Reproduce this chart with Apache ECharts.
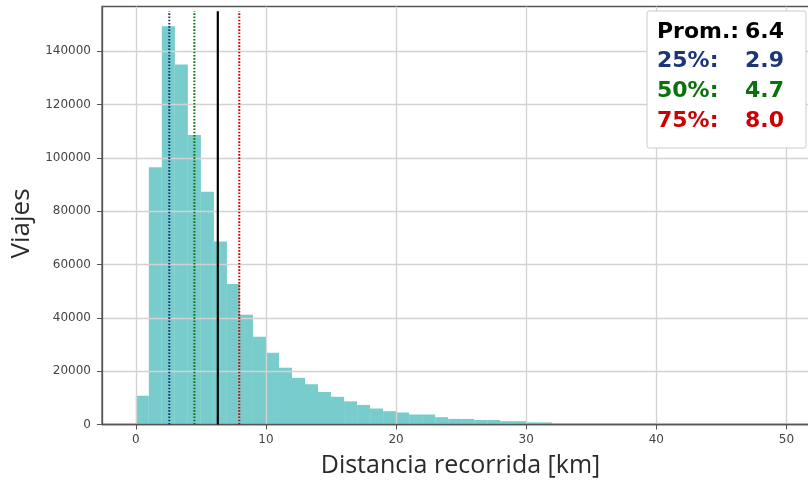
<!DOCTYPE html>
<html>
<head>
<meta charset="utf-8">
<script src="https://cdn.jsdelivr.net/npm/echarts@6/dist/echarts.min.js"></script>
<style>html,body{margin:0;padding:0;background:#fff;}#c{width:808px;height:491px;}</style>
</head>
<body>
<div id="c"></div>
<script>
// Histogram bins (start of bin, width 1 km)
const binStarts = [0,1,2,3,4,5,6,7,8,9,10,11,12,13,14,15,16,17,18,19,20,21,22,23,24,25,26,27,28,29,30,31,32,33,34,35,36,37,38,39];
const binCounts = [10800,96500,149300,135000,108600,87300,68600,52700,41200,32900,26900,21300,17500,15100,12200,10400,8700,7350,6000,5000,4500,3750,3750,2750,2100,2100,1700,1700,1250,1250,800,800,350,350,300,300,300,300,300,300];
const binWidth = 1;
// Vertical reference lines (drawn positions) and their legend values
const refNames = ['Prom.:', '25%:', '50%:', '75%:'];
const refValues = ['6.4', '2.9', '4.7', '8.0'];
const refLineX = [6.3, 2.57, 4.5, 7.95];
const refLineTop = 155000;
const refColors = ['#000000', '#1b3577', '#0a720a', '#cc0000'];
const xTicks = [0,10,20,30,40,50];
const yTicks = [0,20000,40000,60000,80000,100000,120000,140000];

const chart = echarts.init(document.getElementById('c'), null, {renderer:'canvas'});

const lineSeries = refLineX.map((x, i) => ({
  type: 'line',
  data: [[x, 0], [x, refLineTop]],
  symbol: 'none',
  z: 6,
  silent: true,
  lineStyle: i === 0
    ? {color: refColors[i], width: 2.2, type: 'solid'}
    : {color: refColors[i], width: 2, type: [1.6, 1.6]}
}));

const option = {
  animation: false,
  grid: {left: 102, top: 6.5, width: 717, bottom: 66.5, outerBoundsMode: 'none', containLabel: false,
         show: true, borderColor: '#555', borderWidth: 1.3, backgroundColor: 'transparent'},
  xAxis: {
    type: 'value', min: -2.6, max: 52.5, z: 3,
    name: 'Distancia recorrida [km]', nameLocation: 'middle', nameGap: 29,
    nameTextStyle: {fontFamily: 'Open Sans', fontSize: 25, color: '#2a2a2a'},
    axisLine: {show: true, onZero: false, lineStyle: {color: '#555', width: 1.3}},
    axisTick: {show: true, length: 5, lineStyle: {color: '#555'}, customValues: xTicks},
    axisLabel: {customValues: xTicks, fontFamily: 'DejaVu Sans', fontSize: 12, color: '#444', margin: 9},
    splitLine: {show: true, lineStyle: {color: '#d2d2d2', width: 1.3}}
  },
  yAxis: {
    type: 'value', min: 0, max: 156750, z: 3,
    name: 'Viajes', nameLocation: 'middle', nameGap: 65,
    nameTextStyle: {fontFamily: 'Open Sans', fontSize: 26, color: '#2a2a2a', padding: [0,16,0,0]},
    axisLine: {show: true, onZero: false, lineStyle: {color: '#555', width: 1.3}},
    axisTick: {show: true, length: 5, lineStyle: {color: '#555'}, customValues: yTicks},
    axisLabel: {customValues: yTicks, formatter: v => String(v), fontFamily: 'DejaVu Sans', fontSize: 12, color: '#444', margin: 11},
    splitLine: {show: true, lineStyle: {color: '#d2d2d2', width: 1.3}}
  },
  series: [{
    type: 'custom',
    z: 2,
    silent: true,
    data: binStarts.map((s, i) => [s, binCounts[i]]),
    renderItem: function (params, api) {
      const s = api.value(0), v = api.value(1);
      const p0 = api.coord([s, v]);
      const p1 = api.coord([s + binWidth, 0]);
      return {type: 'rect', shape: {x: p0[0], y: p0[1], width: p1[0] - p0[0], height: p1[1] - p0[1]},
              style: {fill: '#78cdcc'}};
    }
  }].concat(lineSeries),
  graphic: [
    {type: 'rect', shape: {x: 647, y: 11, width: 159, height: 137, r: 2}, style: {fill: '#fff', stroke: '#cccccc', lineWidth: 1}, z: 100},
  ].concat(refNames.map((n, i) => ({
    type: 'text', x: 657, y: 32 + i * 29.6, z: 101,
    style: {text: n, fill: refColors[i], font: 'bold 22px "DejaVu Sans"', textAlign: 'left', textVerticalAlign: 'middle'}
  }))).concat(refValues.map((v, i) => ({
    type: 'text', x: 784, y: 32 + i * 29.6, z: 101,
    style: {text: v, fill: refColors[i], font: 'bold 22px "DejaVu Sans"', textAlign: 'right', textVerticalAlign: 'middle'}
  })))
};
chart.setOption(option);
</script>
</body>
</html>
